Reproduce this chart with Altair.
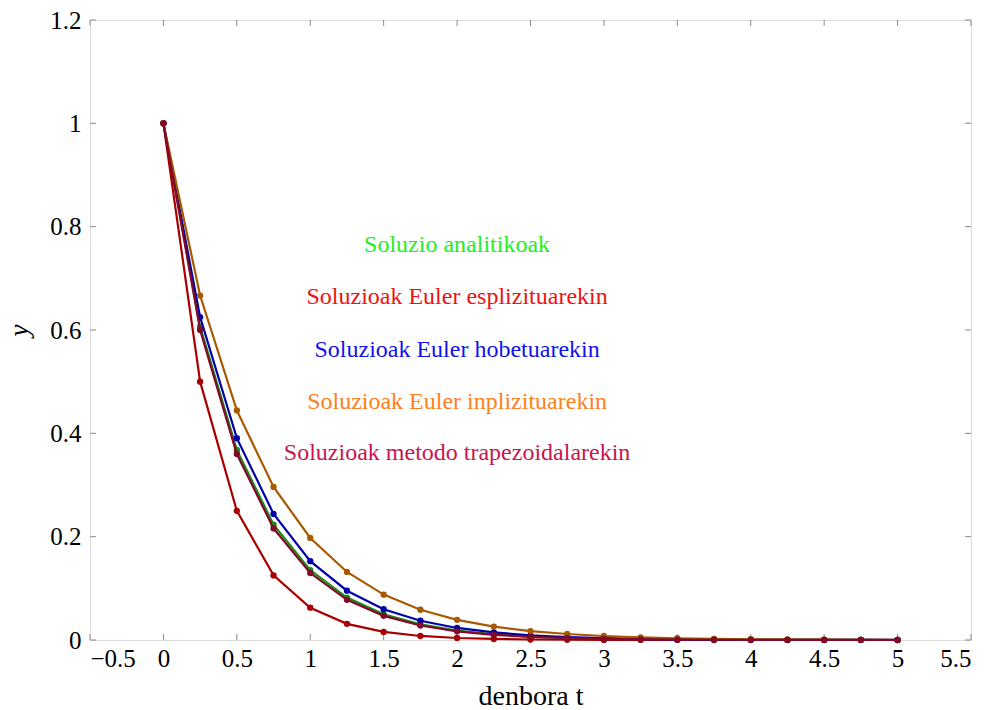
import altair as alt
import pandas as pd

t = [0, 0.25, 0.5, 0.75, 1, 1.25, 1.5, 1.75, 2, 2.25, 2.5, 2.75, 3, 3.25, 3.5, 3.75, 4, 4.25, 4.5, 4.75, 5]
analitikoa = [1, 0.6065, 0.3679, 0.2231, 0.1353, 0.0821, 0.0498, 0.0302, 0.0183, 0.0111, 0.0067,
              0.0041, 0.0025, 0.0015, 0.0009, 0.0006, 0.0003, 0.0002, 0.0001, 0.0001, 0.0000]
esplizitua = [1, 0.5, 0.25, 0.125, 0.0625, 0.0313, 0.0156, 0.0078, 0.0039, 0.0020, 0.0010,
              0.0005, 0.0002, 0.0001, 0.0001, 0.0000, 0.0000, 0.0000, 0.0000, 0.0000, 0.0000]
hobetua = [1, 0.625, 0.3906, 0.2441, 0.1526, 0.0954, 0.0596, 0.0373, 0.0233, 0.0146, 0.0091,
           0.0057, 0.0036, 0.0022, 0.0014, 0.0009, 0.0005, 0.0003, 0.0002, 0.0001, 0.0001]
inplizitua = [1, 0.6667, 0.4444, 0.2963, 0.1975, 0.1317, 0.0878, 0.0585, 0.0390, 0.0260, 0.0173,
              0.0116, 0.0077, 0.0051, 0.0034, 0.0023, 0.0015, 0.0010, 0.0007, 0.0004, 0.0003]
trapezoidala = [1, 0.6, 0.36, 0.216, 0.1296, 0.0778, 0.0467, 0.0280, 0.0168, 0.0101, 0.0060,
                0.0036, 0.0022, 0.0013, 0.0008, 0.0005, 0.0003, 0.0002, 0.0001, 0.0001, 0.0000]

series_values = [analitikoa, esplizitua, hobetua, inplizitua, trapezoidala]
line_colors = ["#1a8a1a", "#a80000", "#0000a8", "#a85a00", "#800a28"]

label_texts = ["Soluzio analitikoak", "Soluzioak Euler esplizituarekin", "Soluzioak Euler hobetuarekin",
               "Soluzioak Euler inplizituarekin", "Soluzioak metodo trapezoidalarekin"]
label_x = [2, 2, 2, 2, 2]
label_y = [0.765, 0.663, 0.562, 0.461, 0.362]
label_colors = ["#22ee22", "#ee1111", "#1111ee", "#ff8020", "#c81450"]

x_ticks = [-0.5, 0, 0.5, 1, 1.5, 2, 2.5, 3, 3.5, 4, 4.5, 5, 5.5]
y_ticks = [0, 0.2, 0.4, 0.6, 0.8, 1.0, 1.2]

FONT = "Liberation Serif"
W, H = 881, 620

xscale = alt.Scale(domain=[-0.5, 5.5], nice=False, zero=False)
yscale = alt.Scale(domain=[0, 1.2], nice=False, zero=False)

xaxis = alt.Axis(values=x_ticks, domain=False, ticks=False, grid=False, labelFont=FONT,
                 labelFontSize=25, labelColor="black", labelPadding=6, format="~g",
                 title="denbora t", titleFont=FONT, titleFontSize=28, titleFontWeight="normal",
                 titleColor="black", titlePadding=11, labelExpr="replace(datum.label, '-', '−')")
yaxis = alt.Axis(values=y_ticks, domain=False, ticks=False, grid=False, labelFont=FONT,
                 labelFontSize=25, labelColor="black", labelPadding=9, format="~g",
                 title="y", titleFont=FONT, titleFontSize=27, titleFontWeight="normal",
                 titleFontStyle="italic", titleColor="black", titlePadding=16)

xt = pd.DataFrame({"v": x_ticks})
yt = pd.DataFrame({"v": y_ticks})

tick_col = "#8a8a8a"
layers = [
    alt.Chart(xt).mark_rule(color=tick_col, strokeWidth=1).encode(
        x=alt.X("v:Q", scale=xscale, axis=xaxis), y=alt.value(H), y2=alt.value(H - 6)),
    alt.Chart(xt).mark_rule(color=tick_col, strokeWidth=1).encode(
        x=alt.X("v:Q", scale=xscale), y=alt.value(0), y2=alt.value(6)),
    alt.Chart(yt).mark_rule(color=tick_col, strokeWidth=1).encode(
        y=alt.Y("v:Q", scale=yscale, axis=yaxis), x=alt.value(0), x2=alt.value(6)),
    alt.Chart(yt).mark_rule(color=tick_col, strokeWidth=1).encode(
        y=alt.Y("v:Q", scale=yscale), x=alt.value(W), x2=alt.value(W - 6)),
]

for vals, col in zip(series_values, line_colors):
    df = pd.DataFrame({"t": t, "y": vals})
    layers.append(
        alt.Chart(df).mark_line(color=col, strokeWidth=2.2,
                                point=alt.OverlayMarkDef(filled=True, color=col, size=40, opacity=1)).encode(
            x=alt.X("t:Q", scale=xscale),
            y=alt.Y("y:Q", scale=yscale),
        )
    )

labels_df = pd.DataFrame({"x": label_x, "y": label_y, "txt": label_texts, "col": label_colors})
layers.append(
    alt.Chart(labels_df).mark_text(font=FONT, fontSize=24, align="center", baseline="middle").encode(
        x=alt.X("x:Q", scale=xscale),
        y=alt.Y("y:Q", scale=yscale),
        text="txt:N",
        color=alt.Color("col:N", scale=None),
    )
)

chart = alt.layer(*layers).properties(
    width=W, height=H,
    autosize=alt.AutoSizeParams(type="none"),
    padding={"left": 90, "top": 20, "right": 20, "bottom": 70},
).configure_view(stroke="#000000", strokeWidth=1.5).configure(background="white")

chart.save("out.html", embed_options={"renderer": "svg", "actions": False})
